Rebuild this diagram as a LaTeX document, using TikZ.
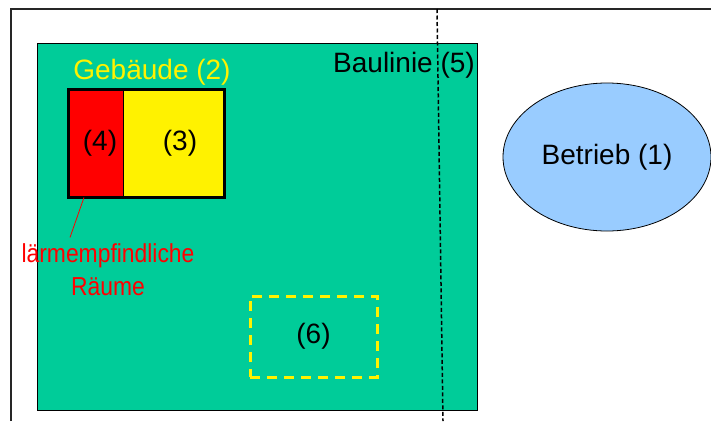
\documentclass[tikz,border=0pt]{standalone}
\usepackage{fontspec}
\setmainfont{Liberation Sans}
\newfontfamily\narrowsans[FakeStretch=0.88]{Liberation Sans}
\usetikzlibrary{shapes.geometric}

\definecolor{plotgreen}{RGB}{0,204,153}
\definecolor{betriebblue}{RGB}{153,204,255}

\begin{document}
\begin{tikzpicture}[x=1pt, y=-1pt, font=\fontsize{28}{32}\selectfont,
    room/.style={draw, line width=1pt, minimum height=107pt, inner sep=0pt},
    bigtext/.style={font=\fontsize{28}{32}\selectfont},
    smalltext/.style={font=\narrowsans\fontsize{26}{33}\selectfont, align=center}]
    \useasboundingbox (0,0) rectangle (711,421);

    % site frame
    \draw[line width=1.5pt, black!85] (11,421) |- (711,9);

    % plot
    \node[draw, line width=0.8pt, fill=plotgreen, minimum width=440pt, minimum height=367pt, inner sep=0pt] (plot) at (257,226.5) {};

    % building
    \node[room, fill=red, minimum width=54pt] (r4) at (96,143.5) {\hspace*{8pt}(4)};
    \node[room, fill=yellow, minimum width=101pt] (r3) at (173.5,143.5) {\hspace*{13pt}(3)};
    \draw[line width=3pt] (r4.north west) rectangle (r3.south east);
    \node[bigtext, text=yellow] (gebaeude) at (152,72) {Gebäude (2)};

    \node[smalltext, text=red] (laerm) at (108,270) {lärmempfindliche\\Räume};
    \draw[red, line width=0.8pt] ([xshift=-12pt]r4.south) -- ([xshift=-38pt, yshift=3pt]laerm.north);

    % area (6)
    \node[draw=yellow, line width=3pt, dash pattern=on 10pt off 7pt, minimum width=127pt, minimum height=81pt, inner sep=0pt] (r6) at (313.5,336.5) {(6)};

    % building line
    \coordinate (bltop) at (437,9);
    \coordinate (blbot) at (443,421);
    \draw[line width=1.5pt, dash pattern=on 4pt off 2.5pt] (bltop) -- (blbot);
    \node[bigtext] (baulinie) at (404,65) {Baulinie (5)};

    % plant
    \node[ellipse, draw, line width=0.8pt, fill=betriebblue, minimum width=208pt, minimum height=148pt, inner sep=0pt] (betrieb) at (607,157) {Betrieb (1)};
\end{tikzpicture}
\end{document}
